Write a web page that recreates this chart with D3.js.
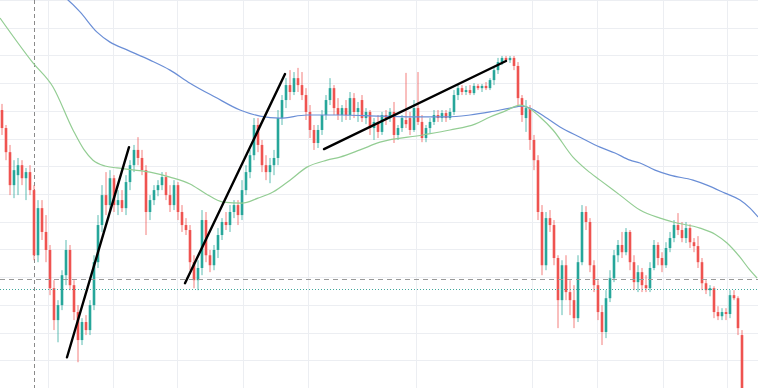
<!DOCTYPE html>
<html>
  <head>
    <meta charset="utf-8">
    <style>
    body {margin:0; background:white;}
    svg {display:block; background:white;}
    .grid line {stroke:#eceef2; stroke-width:1;}
    </style>
  </head>
  <body>
    <div id="chart"></div>
    <script src="https://cdn.jsdelivr.net/npm/d3@7"></script>
    <script>

  // candles, one per bar: [open, high, low, close]
  var candles = [
    [100.3,102.5,91.3,93.8],[93.8,94.9,82.2,85.1],[85.1,87.7,69.6,73.2],[73.2,82.2,68.5,78.6],
    [76.8,83.0,69.6,80.4],[80.4,82.2,73.2,75.7],[75.7,79.4,67.8,77.9],[77.9,80.4,69.6,71.4],
    [71.4,73.2,46.1,47.9],[47.9,67.8,45.4,64.9],[64.9,67.8,53.4,56.3],[56.3,62.4,45.4,49.8],
    [49.8,51.6,33.5,36.0],[36.0,38.9,20.9,24.5],[24.5,31.7,16.5,29.9],[29.9,42.5,28.1,40.7],
    [40.7,53.4,37.1,49.8],[49.8,51.6,35.3,37.1],[37.1,38.9,24.5,27.4],[27.4,29.9,9.3,17.3],
    [17.3,25.2,15.5,23.8],[23.8,26.3,19.1,20.9],[20.9,31.7,19.1,29.9],[29.9,47.9,28.1,45.4],
    [45.4,62.4,43.3,58.8],[58.8,73.2,56.3,69.6],[69.6,77.9,62.4,66.0],[66.0,78.6,64.2,75.7],
    [75.7,76.8,63.5,66.0],[66.0,71.4,62.4,67.8],[67.8,71.4,63.5,64.9],[64.9,76.8,62.4,74.3],
    [74.3,82.2,71.4,80.4],[80.4,87.7,77.9,85.9],[85.9,90.5,80.4,83.0],[83.0,85.9,76.8,78.6],
    [78.6,80.4,55.2,63.5],[63.5,69.6,60.6,67.8],[67.8,73.2,66.0,71.4],[71.4,75.0,69.2,73.2],
    [73.2,77.9,71.4,76.1],[76.1,77.9,67.8,69.6],[69.6,73.2,63.5,66.0],[66.0,75.0,64.2,73.2],
    [73.2,74.3,60.6,63.5],[63.5,66.0,56.3,58.8],[58.8,61.3,55.2,57.0],[57.0,58.8,42.5,45.4],
    [45.4,47.9,36.0,38.9],[38.9,46.1,35.3,43.3],[43.3,64.2,40.7,60.6],[60.6,63.5,45.4,47.9],
    [47.9,49.8,41.8,44.3],[44.3,51.6,42.5,49.8],[49.8,57.7,46.9,55.2],[55.2,61.3,53.4,59.9],
    [59.9,63.5,57.0,58.8],[58.8,66.0,56.3,63.5],[63.5,67.8,61.3,66.0],[66.0,67.8,58.8,62.4],
    [62.4,75.0,60.6,71.4],[71.4,80.4,69.6,77.9],[77.9,85.9,75.7,84.0],[84.0,97.4,82.2,94.9],
    [94.9,97.4,85.1,87.7],[87.7,89.5,77.9,80.4],[80.4,84.0,75.0,77.9],[77.9,83.0,73.9,80.4],
    [80.4,85.9,76.8,83.0],[83.0,100.3,80.4,97.4],[97.4,105.7,94.9,103.9],[103.9,111.8,101.0,109.3],
    [109.3,114.7,103.9,106.8],[106.8,114.0,105.7,111.8],[111.8,115.5,106.8,109.3],[109.3,114.0,103.9,105.7],
    [105.7,108.2,96.7,99.6],[99.6,102.1,90.2,93.1],[93.1,94.9,85.9,88.4],[88.4,94.9,86.6,93.1],
    [93.1,100.3,91.3,98.5],[98.5,105.7,96.7,103.9],[103.9,111.8,102.1,108.2],[108.2,109.3,98.5,101.0],
    [101.0,104.6,96.7,98.5],[98.5,102.1,96.0,101.0],[101.0,103.9,96.7,98.5],[98.5,106.8,96.7,104.6],
    [104.6,106.4,97.4,99.6],[99.6,103.2,96.0,101.0],[103.9,105.7,96.0,97.4],[97.4,101.0,95.2,99.6],
    [99.6,100.3,91.3,93.8],[93.8,97.4,89.5,96.0],[96.0,98.5,90.2,92.4],[92.4,99.6,91.3,98.5],
    [98.5,100.3,94.9,97.4],[97.4,101.0,96.0,99.6],[99.6,103.2,88.4,91.3],[91.3,94.9,89.5,93.8],
    [93.8,98.5,92.4,97.4],[96.7,113.7,93.8,95.2],[97.4,99.6,91.3,93.1],[93.1,103.9,92.4,101.0],
    [101.0,114.0,94.9,96.0],[96.0,98.5,88.7,90.2],[90.2,94.9,88.7,93.8],[93.8,97.4,92.0,96.0],
    [96.0,100.3,94.9,98.5],[98.5,100.3,96.0,97.4],[97.4,100.3,96.0,99.2],[99.2,100.3,96.0,97.4],
    [97.4,101.0,96.7,99.6],[99.6,107.5,98.5,105.7],[105.7,109.7,103.9,108.2],[108.2,109.3,105.7,106.8],
    [106.8,109.0,105.7,107.5],[107.5,109.3,105.7,106.4],[106.4,110.0,105.7,109.0],[109.0,109.7,107.5,108.2],
    [108.2,109.7,106.8,109.0],[109.0,110.4,107.5,108.2],[108.2,111.8,107.5,111.1],[111.1,115.5,109.3,114.7],
    [114.7,119.1,113.3,117.6],[117.6,119.8,116.5,119.1],[119.1,119.8,117.6,118.3],[118.3,119.8,117.3,119.1],
    [119.1,119.8,114.7,116.2],[116.2,117.6,102.1,104.6],[104.6,105.7,96.0,98.5],[97.4,103.9,92.4,101.0],
    [101.0,102.1,85.9,89.5],[89.5,91.3,78.6,82.2],[82.2,84.0,60.6,63.5],[63.5,66.0,40.7,44.3],
    [44.3,63.5,42.5,61.3],[61.3,64.2,56.3,58.8],[58.8,60.6,44.3,46.9],[46.9,47.9,21.6,31.7],
    [31.7,46.1,26.3,44.3],[44.3,47.9,31.7,34.6],[34.6,38.9,26.3,31.7],[31.7,37.1,21.6,25.2],
    [25.2,47.9,23.8,45.4],[45.4,66.0,44.3,63.5],[63.5,65.6,57.0,59.9],[59.9,61.3,41.8,44.3],
    [44.3,46.1,34.6,37.1],[37.1,38.9,24.5,27.4],[27.4,29.9,15.5,20.2],[20.2,35.3,18.0,32.4],
    [32.4,42.5,31.0,39.6],[39.6,49.8,38.2,47.9],[47.9,53.4,45.4,51.6],[51.6,56.3,46.9,49.0],
    [49.0,57.7,47.9,56.3],[56.3,57.0,42.5,45.4],[45.4,47.9,35.3,38.2],[38.2,44.3,34.6,41.8],
    [41.8,43.3,34.6,37.1],[37.1,40.7,34.6,36.0],[36.0,45.4,34.6,43.3],[43.3,53.4,42.5,51.6],
    [51.6,52.6,44.3,46.9],[46.9,49.0,41.8,44.3],[44.3,52.6,43.3,50.5],[50.5,56.3,49.0,54.1],
    [54.1,60.6,52.6,58.8],[58.8,63.1,55.2,57.0],[57.0,59.9,52.6,54.1],[54.1,59.9,52.3,57.7],
    [57.7,59.1,50.5,52.6],[52.6,54.1,49.0,51.2],[51.2,54.8,43.3,45.4],[45.4,46.9,35.3,37.8],
    [37.8,38.9,33.9,35.3],[35.3,37.1,33.1,36.0],[36.0,36.7,25.2,27.4],[27.4,29.5,24.5,25.9],
    [25.9,28.8,24.5,27.4],[27.4,28.8,24.5,26.7],[26.7,35.3,25.2,33.5],[33.5,35.3,31.7,32.4],
    [32.4,33.1,19.1,21.6],[19.1,20.9,-1.5,-1.5]
  ];

  // slow moving average (blue): [bar, price]
  var maSlow = [
    [15.5,141.1],[16.5,140],[19.5,135.7],[23.75,128.4],[27,124.8],[31.25,122.0],[37,118.3],
    [42,114.7],[47,110.0],[53.25,105.0],[59.5,100.3],[64.5,98.1],[69.5,97.4],[76.25,98.5],
    [84.5,98.5],[94.5,98.1],[104.5,97.8],[111.25,97.8],[117,98.5],[122,99.6],[127,101.0],
    [130,101.7],[132,101.0],[135.75,97.8],[139.5,94.2],[144.5,90.5],[149.5,86.9],[153.25,84.8],
    [157,82.2],[159.5,81.2],[163.25,78.6],[167,76.8],[172.75,75.0],[176.25,73.2],[180.75,70.3],
    [184.5,67.8],[187,64.9],[189,61.7]
  ];

  // fast moving average (green): [bar, price]
  var maFast = [
    [-0.5,133.5],[7.75,117.3],[12.75,108.6],[17.75,93.1],[20.5,86.0],[22.75,82.2],[25.75,80.1],[28.75,79.4],
    [37,77.9],[42,76.1],[47,73.6],[50.75,70.3],[55.25,67.1],[60,66.7],[64,68.5],[67.75,70.7],
    [72,75.0],[76.25,79.7],[81.25,82.2],[84.5,83.3],[89.5,85.9],[94.5,88.7],[105.25,91.3],
    [112,93.1],[118.25,95.2],[122,97.8],[125.75,99.9],[129.5,102.1],[131.25,101.4],[134.5,97.8],
    [137.75,93.1],[142.75,83.3],[146.25,78.6],[149.5,75.0],[154.5,69.6],[159.5,64.2],[164.5,61.3],
    [167.75,59.9],[174.5,57.7],[178.25,55.5],[181.25,52.3],[184.5,47.2],[187,42.5],[188.75,39.7]
  ];

  // hand drawn trend lines: [[bar, price], [bar, price]]
  var trendlines = [
    [[16.25,11.1],[31.75,86.9]],
    [[45.75,37.8],[70.75,113.3]],
    [[80.5,86.2],[126,118.0]]
  ];

  var priceTicks = [10,20,30,40,50,60,70,80,90,100,110,120,130,140];
  var timeTicks = [11.4,27.7,43.8,60.2,76.5,103.5,132.5,148.8,165.2,181.2];
  var crosshairBar = 8;
  var dashedLevel = 39.3;
  var dottedLevel = 35.7;

  var width = 758, height = 388;

  var svg = d3.select("#chart")
    .append("svg")
    .attr("width", width)
    .attr("height", height);

  var x = d3.scaleLinear().domain([-0.5, 189]).range([0, width]);
  var y = d3.scaleLinear().domain([0, 140]).range([height, 0]);

  var up = "#26a69a", down = "#ef5350";

  // grid
  var grid = svg.append("g").attr("class", "grid");
  grid.selectAll(".h").data(priceTicks).enter().append("line")
    .attr("x1", 0).attr("x2", width)
    .attr("y1", function(d) { return Math.round(y(d)) + 0.5; })
    .attr("y2", function(d) { return Math.round(y(d)) + 0.5; });
  grid.selectAll(".v").data(timeTicks).enter().append("line")
    .attr("y1", 0).attr("y2", height)
    .attr("x1", function(d) { return Math.round(x(d)) + 0.5; })
    .attr("x2", function(d) { return Math.round(x(d)) + 0.5; });

  // crosshair
  svg.append("line")
    .attr("x1", Math.round(x(crosshairBar)) + 0.5).attr("x2", Math.round(x(crosshairBar)) + 0.5)
    .attr("y1", 0).attr("y2", height)
    .attr("stroke", "#8a8a8a").attr("stroke-width", 1)
    .attr("stroke-dasharray", "4,3");

  // candles
  var bw = 2.6;
  var bars = svg.append("g").selectAll("g")
    .data(candles).enter().append("g")
    .attr("fill", function(d) { return d[3] >= d[0] ? up : down; })
    .attr("stroke", function(d) { return d[3] >= d[0] ? up : down; });

  bars.append("line")
    .attr("x1", function(d, i) { return x(i); })
    .attr("x2", function(d, i) { return x(i); })
    .attr("y1", function(d) { return y(d[1]); })
    .attr("y2", function(d) { return y(d[2]); })
    .attr("stroke-width", 1)
    .attr("stroke-opacity", 0.75);

  bars.append("rect")
    .attr("x", function(d, i) { return x(i) - bw / 2; })
    .attr("width", bw)
    .attr("y", function(d) { return y(Math.max(d[0], d[3])); })
    .attr("height", function(d) { return Math.max(1, Math.abs(y(d[0]) - y(d[3]))); })
    .attr("stroke", "none");

  // moving averages
  var line = d3.line()
    .x(function(d) { return x(d[0]); })
    .y(function(d) { return y(d[1]); })
    .curve(d3.curveMonotoneX);

  svg.append("path").datum(maSlow)
    .attr("d", line)
    .attr("fill", "none")
    .attr("stroke", "#6a8ed6")
    .attr("stroke-width", 1.2);

  svg.append("path").datum(maFast)
    .attr("d", line)
    .attr("fill", "none")
    .attr("stroke", "#93cd93")
    .attr("stroke-width", 1.2);

  // price levels
  svg.append("line")
    .attr("x1", 0).attr("x2", width)
    .attr("y1", Math.round(y(dashedLevel)) + 0.5).attr("y2", Math.round(y(dashedLevel)) + 0.5)
    .attr("stroke", "#9a9a9a").attr("stroke-width", 1)
    .attr("stroke-dasharray", "5,4");

  svg.append("line")
    .attr("x1", 0).attr("x2", width)
    .attr("y1", Math.round(y(dottedLevel)) + 0.5).attr("y2", Math.round(y(dottedLevel)) + 0.5)
    .attr("stroke", "#3fa89c").attr("stroke-width", 1)
    .attr("stroke-dasharray", "1,2");

  // trend lines
  svg.append("g").selectAll("line")
    .data(trendlines).enter().append("line")
    .attr("x1", function(d) { return x(d[0][0]); })
    .attr("y1", function(d) { return y(d[0][1]); })
    .attr("x2", function(d) { return x(d[1][0]); })
    .attr("y2", function(d) { return y(d[1][1]); })
    .attr("stroke", "#000")
    .attr("stroke-width", 2.4)
    .attr("stroke-linecap", "round");

    </script>
  </body>
</html>
